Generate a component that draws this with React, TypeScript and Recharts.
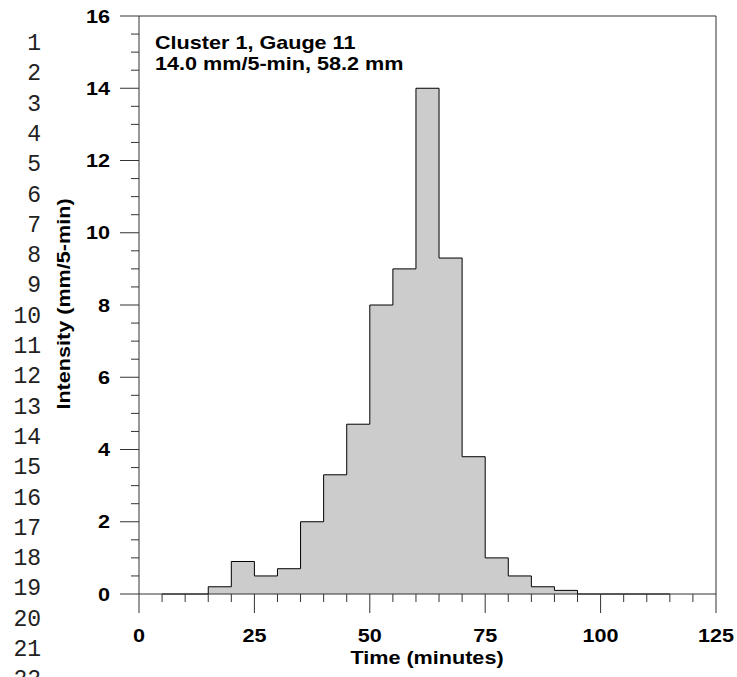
import React from "react";
import { AreaChart, Area, XAxis, YAxis, ReferenceLine } from "recharts";

// start of each 5-min interval (minutes) and its rainfall intensity (mm/5-min)
const binStart = [5, 10, 15, 20, 25, 30, 35, 40, 45, 50, 55, 60, 65, 70, 75, 80, 85, 90, 95, 100, 105, 110, 115];
const intensity = [0, 0, 0.2, 0.9, 0.5, 0.7, 2.0, 3.3, 4.7, 8.0, 9.0, 14.0, 9.3, 3.8, 1.0, 0.5, 0.2, 0.1, 0, 0, 0, 0, 0];

const xMajorTicks = [0, 25, 50, 75, 100, 125];
const yMajorTicks = [0, 2, 4, 6, 8, 10, 12, 14, 16];
const xMinorStep = 5;
const yMinorStep = 0.5;

const titleLines = ["Cluster 1, Gauge 11", "14.0 mm/5-min, 58.2 mm"];
const xTitle = "Time (minutes)";
const yTitle = "Intensity (mm/5-min)";
const lineNumbers = ["1", "2", "3", "4", "5", "6", "7", "8", "9", "10", "11", "12", "13", "14", "15", "16", "17", "18", "19", "20", "21", "22"];

const data = binStart.map((t, i) => ({ t, v: intensity[i] }));

const xTicks: number[] = [];
for (let v = 0; v <= 125; v += xMinorStep) xTicks.push(v);
const yTicks: number[] = [];
for (let v = 0; v <= 16; v += yMinorStep) yTicks.push(v);

const AXIS = "#333";
const FONT = "'Liberation Sans', Arial, sans-serif";
const FS = 18;
const SX = 1.2;

function Txt({ x, y, anchor = "start", rotate = 0, children }: any) {
  return (
    <text
      transform={`translate(${x},${y}) rotate(${rotate}) scale(${SX},1)`}
      textAnchor={anchor}
      fontFamily={FONT}
      fontWeight="bold"
      fontSize={FS}
      fill="#000"
    >
      {children}
    </text>
  );
}

const YTick = (props: any) => {
  const { x, y, payload } = props;
  const major = yMajorTicks.includes(payload.value);
  return (
    <g>
      <line x1={x - (major ? 19 : 8)} x2={x} y1={y} y2={y} stroke={AXIS} />
      {major && (
        <Txt x={x - 29} y={y + 6.5} anchor="end">
          {payload.value}
        </Txt>
      )}
    </g>
  );
};

const XTick = (props: any) => {
  const { x, y, payload } = props;
  const major = xMajorTicks.includes(payload.value);
  return (
    <g>
      <line x1={x} x2={x} y1={y} y2={y + (major ? 19 : 8)} stroke={AXIS} />
      {major && (
        <Txt x={x} y={y + 48} anchor="middle">
          {payload.value}
        </Txt>
      )}
    </g>
  );
};

const XTitle = () => (
  <Txt x={427} y={664} anchor="middle">
    {xTitle}
  </Txt>
);

const YTitle = () => (
  <Txt x={69.5} y={304} anchor="middle" rotate={-90}>
    {yTitle}
  </Txt>
);

const Annotation = () => (
  <g>
    {titleLines.map((s, i) => (
      <Txt key={s} x={155} y={48.7 + i * 21.3}>
        {s}
      </Txt>
    ))}
  </g>
);

export default function App() {
  return (
    <div style={{ position: "absolute", left: 0, top: 0, width: 737, height: 677, background: "#fff" }}>
      <svg width={737} height={677} style={{ position: "absolute", left: 0, top: 0 }}>
        {lineNumbers.map((n, i) => (
          <text
            key={n}
            x={41}
            y={50 + i * 30.3}
            textAnchor="end"
            fontFamily="'Liberation Mono', 'Courier New', monospace"
            fontSize={23}
            fill="#222"
          >
            {n}
          </text>
        ))}
      </svg>
      <div style={{ position: "absolute", left: 0, top: 0 }}>
        <AreaChart width={737} height={677} data={data} margin={{ top: 16, right: 21, bottom: 0, left: 0 }}>
          <XAxis
            dataKey="t"
            type="number"
            domain={[0, 125]}
            ticks={xTicks}
            interval={0}
            height={83}
            tickSize={0}
            tickMargin={0}
            tickLine={false}
            axisLine={{ stroke: AXIS }}
            tick={<XTick />}
            label={<XTitle />}
          />
          <YAxis
            type="number"
            domain={[0, 16]}
            ticks={yTicks}
            interval={0}
            width={139}
            tickSize={0}
            tickMargin={0}
            tickLine={false}
            axisLine={{ stroke: AXIS }}
            tick={<YTick />}
            label={<YTitle />}
          />
          <ReferenceLine y={16} stroke={AXIS} label={<Annotation />} />
          <ReferenceLine x={125} stroke={AXIS} />
          <Area
            type="stepAfter"
            dataKey="v"
            stroke="#000"
            strokeWidth={1}
            fill="#cccccc"
            fillOpacity={1}
            dot={false}
            activeDot={false}
            isAnimationActive={false}
          />
        </AreaChart>
      </div>
    </div>
  );
}
